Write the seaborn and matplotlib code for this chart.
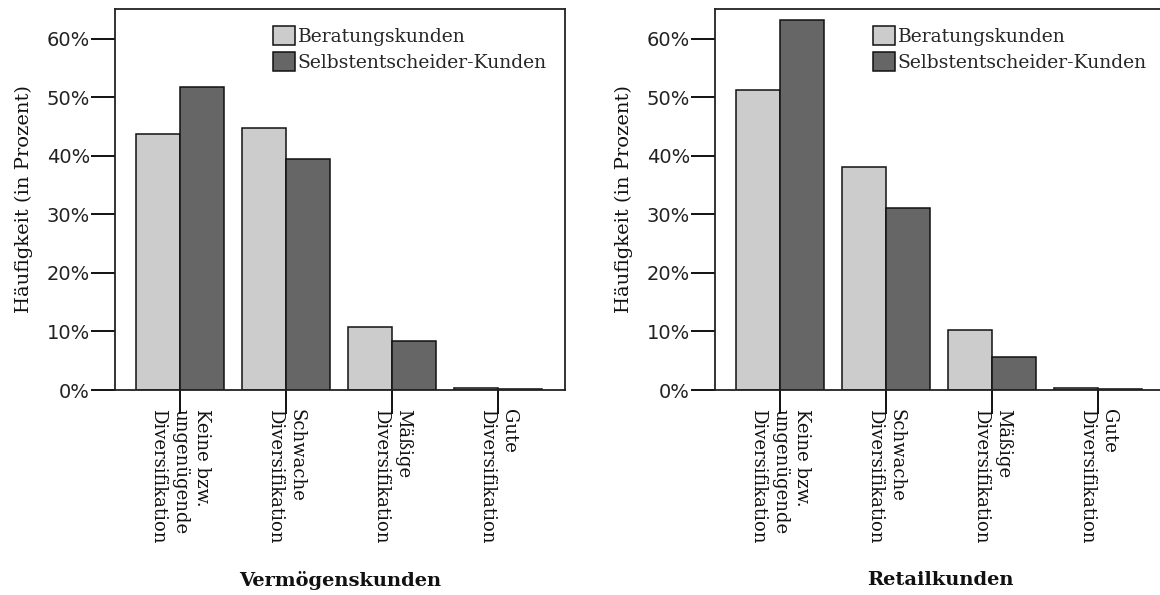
import matplotlib
matplotlib.use("Agg")
import matplotlib.pyplot as plt
from matplotlib.patches import Patch
from matplotlib.ticker import FuncFormatter
import pandas as pd
import seaborn as sns

# Categories and shares (in percent)
categories = [
    "Keine bzw.\nungenügende\nDiversifikation",
    "Schwache\nDiversifikation",
    "Mäßige\nDiversifikation",
    "Gute\nDiversifikation",
]
groups = ["Beratungskunden", "Selbstentscheider-Kunden"]
verm_beratung = [43.8, 44.8, 10.8, 0.4]
verm_selbst = [51.8, 39.4, 8.3, 0.1]
retail_beratung = [51.3, 38.1, 10.2, 0.3]
retail_selbst = [63.2, 31.1, 5.7, 0.1]
panel_titles = ["Vermögenskunden", "Retailkunden"]
y_ticks = [0, 10, 20, 30, 40, 50, 60]

sns.set_theme(style="white")
plt.rcParams["font.family"] = ["DejaVu Serif"]

colors = {"Beratungskunden": "#cccccc", "Selbstentscheider-Kunden": "#666666"}
SERIF = "DejaVu Serif"
SANS = "DejaVu Sans"


def long_frame(a, b):
    rows = []
    for cat, v in zip(categories, a):
        rows.append({"Kategorie": cat, "Gruppe": groups[0], "Wert": v})
    for cat, v in zip(categories, b):
        rows.append({"Kategorie": cat, "Gruppe": groups[1], "Wert": v})
    return pd.DataFrame(rows)


W, H = 1160, 595
fig = plt.figure(figsize=(W / 100, H / 100), dpi=100)

panels = [
    (long_frame(verm_beratung, verm_selbst), 115, 340),
    (long_frame(retail_beratung, retail_selbst), 715, 940),
]

for i, (df, left_px, title_x) in enumerate(panels):
    ax = fig.add_axes([left_px / W, (H - 390) / H, 450 / W, 381 / H])
    sns.barplot(
        data=df, x="Kategorie", y="Wert", hue="Gruppe",
        order=categories, hue_order=groups,
        palette=colors, edgecolor="#111111", linewidth=1.1,
        width=0.83, gap=0, legend=False, ax=ax,
    )
    ax.set_xlim(-0.613, 3.63)
    ax.set_ylim(0, 65.1)
    ax.set_yticks(y_ticks)
    ax.yaxis.set_major_formatter(FuncFormatter(lambda v, p: f"{v:.0f}%"))
    ax.set_xlabel("")
    ax.set_ylabel("Häufigkeit (in Prozent)", fontsize=14, family=SERIF,
                  labelpad=10, color="#111111")
    ax.set_xticks(range(len(categories)))
    ax.set_xticklabels(categories, rotation=-90, ha="center", va="top",
                       multialignment="left", fontsize=13, family=SERIF,
                       color="#111111", linespacing=1.25)
    for lab in ax.get_yticklabels():
        lab.set_fontsize(14)
        lab.set_family(SANS)
        lab.set_color("#222222")
    ax.tick_params(axis="y", which="major", direction="out", length=17,
                   width=1.4, color="#111111", pad=1, left=True)
    ax.tick_params(axis="x", which="major", direction="out", length=17,
                   width=1.4, color="#111111", pad=-3, bottom=True)
    for s in ax.spines.values():
        s.set_visible(True)
        s.set_color("#222222")
        s.set_linewidth(1.3)

    handles = [Patch(facecolor=colors[g], edgecolor="#111111", linewidth=1.1)
               for g in groups]
    ax.legend(handles=handles, labels=groups, loc="upper left",
              bbox_to_anchor=(0.35, 0.955), frameon=False,
              handlelength=1.2, handleheight=1.15, handletextpad=0.15,
              labelspacing=0.35, borderaxespad=0, borderpad=0,
              prop={"family": SERIF, "size": 13.5})

    fig.text(title_x / W, 1 - 580 / H, panel_titles[i], ha="center",
             va="center", fontsize=14, fontweight="bold", family=SERIF,
             color="#111111")

fig.savefig("out.png", dpi=100, facecolor="white")
